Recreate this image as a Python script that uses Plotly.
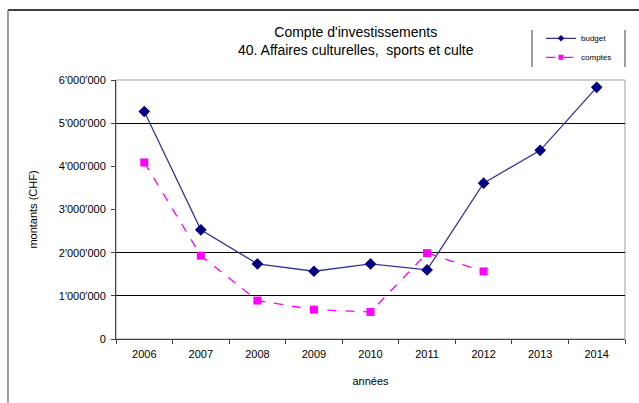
import plotly.graph_objects as go

years = ["2006", "2007", "2008", "2009", "2010", "2011", "2012", "2013", "2014"]
budget = [5270000, 2530000, 1740000, 1570000, 1740000, 1600000, 3610000, 4370000, 5830000]
comptes_years = ["2006", "2007", "2008", "2009", "2010", "2011", "2012"]
comptes = [4090000, 1930000, 890000, 680000, 625000, 1990000, 1565000]
ytick_vals = [0, 1000000, 2000000, 3000000, 4000000, 5000000, 6000000]
ytick_text = ["0", "1'000'000", "2'000'000", "3'000'000", "4'000'000", "5'000'000", "6'000'000"]
grid_vals = [1000000, 2000000, 5000000]

FONT = "Liberation Sans, Arial, sans-serif"

fig = go.Figure()
fig.add_trace(go.Scatter(
    x=years, y=budget, name="budget", mode="lines+markers", showlegend=False,
    line=dict(color="#333399", width=1.3),
    marker=dict(symbol="diamond", size=9, color="#000080"),
))
fig.add_trace(go.Scatter(
    x=comptes_years, y=comptes, name="comptes", mode="lines+markers", showlegend=False,
    line=dict(color="#FF00FF", width=1.3, dash="dash"),
    marker=dict(symbol="square", size=8, color="#FF00FF"),
))
# legend-only entries with small markers
fig.add_trace(go.Scatter(
    x=[None], y=[None], name="budget", mode="lines+markers",
    line=dict(color="#333399", width=1.3),
    marker=dict(symbol="diamond", size=5, color="#000080"),
))
fig.add_trace(go.Scatter(
    x=[None], y=[None], name="comptes", mode="lines+markers",
    line=dict(color="#FF00FF", width=1.3, dash="dash"),
    marker=dict(symbol="square", size=5, color="#FF00FF"),
))
# invisible trace to activate the gridline axis
fig.add_trace(go.Scatter(x=years, y=budget, yaxis="y2", showlegend=False,
                         mode="markers", marker=dict(opacity=0), hoverinfo="skip"))

fig.update_layout(
    width=639, height=403,
    margin=dict(l=116, r=14, t=80, b=64),
    paper_bgcolor="white", plot_bgcolor="white",
    font=dict(family=FONT, size=11, color="#000000"),
    showlegend=True,
    legend=dict(x=0.835, y=1.217, xanchor="left", yanchor="top",
                font=dict(size=8, family=FONT), bgcolor="rgba(0,0,0,0)",
                tracegroupgap=0, itemwidth=30),
    xaxis=dict(type="category", categoryorder="array", categoryarray=years,
               range=[-0.5, 8.5],
               showline=True, linecolor="#404040", linewidth=1,
               ticks="outside", ticklen=4, tickcolor="#404040", tickson="boundaries",
               ticklabelstandoff=5,
               showgrid=False, zeroline=False,
               title=dict(text="années", font=dict(size=11), standoff=18),
               tickfont=dict(size=11)),
    yaxis=dict(range=[0, 6000000], tickvals=ytick_vals, ticktext=ytick_text,
               showline=True, linecolor="#404040", linewidth=1,
               ticks="outside", ticklen=4, tickcolor="#404040",
               ticklabelstandoff=3,
               showgrid=False, zeroline=False,
               title=dict(text="montants (CHF)", font=dict(size=11), standoff=18),
               tickfont=dict(size=11)),
    yaxis2=dict(range=[0, 6000000], overlaying="y", tickvals=grid_vals,
                showticklabels=False, showgrid=True, gridcolor="#000000", gridwidth=1,
                zeroline=False, showline=False, ticks=""),
)

fig.add_annotation(text="Compte d'investissements<br>40. Affaires culturelles,  sports et culte",
                   xref="paper", yref="paper", x=0.4715, y=1.149,
                   xanchor="center", yanchor="middle", showarrow=False,
                   font=dict(size=14, family=FONT), align="center")

# plot area border (gray)
fig.add_shape(type="rect", xref="paper", yref="paper", x0=0, x1=1, y0=0, y1=1,
              line=dict(color="#A0A0A0", width=1), layer="below")
# outer chart frame (top and left)
fig.add_shape(type="line", xref="paper", yref="paper", x0=-0.2122, x1=1.03, y0=1.2703, y1=1.2703,
              line=dict(color="#000000", width=1.5))
fig.add_shape(type="line", xref="paper", yref="paper", x0=-0.2122, x1=-0.2122, y0=-0.25, y1=1.2703,
              line=dict(color="#808080", width=1.5))
# legend frame side lines
fig.add_shape(type="line", xref="paper", yref="paper", x0=0.8173, x1=0.8173, y0=1.05, y1=1.193,
              line=dict(color="#808080", width=1.5))
fig.add_shape(type="line", xref="paper", yref="paper", x0=1.0, x1=1.0, y0=1.05, y1=1.193,
              line=dict(color="#808080", width=1.5))

fig.write_html("out.html")
